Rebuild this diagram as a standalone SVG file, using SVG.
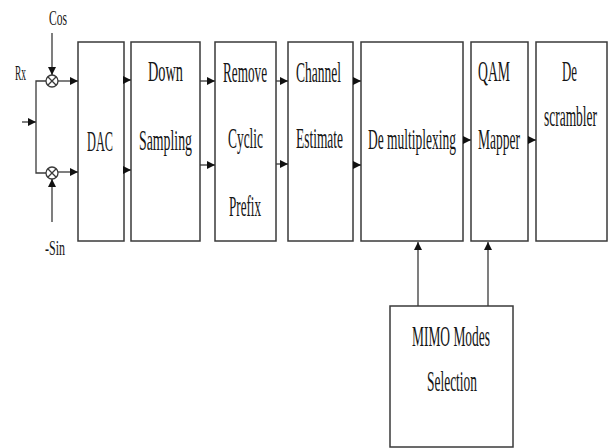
<svg xmlns="http://www.w3.org/2000/svg" width="608" height="448" viewBox="0 0 608 448">
<style>
.box{fill:#fff;stroke:#3a3a3a;stroke-width:1.5}
.ln{fill:none;stroke:#3a3a3a;stroke-width:1.3}
.t{font-family:"Liberation Serif","Times New Roman",serif;font-size:30px;fill:#151515}
.s{font-family:"Liberation Serif","Times New Roman",serif;font-size:20px;fill:#151515}
</style>
<defs>
<marker id="ah" markerWidth="9" markerHeight="9" refX="8" refY="4.5" orient="auto" markerUnits="userSpaceOnUse">
<path d="M0,0.5 L8,4.5 L0,8.5 Z" fill="#111"/>
</marker>
</defs>
<rect width="608" height="448" fill="#fff"/>
<g id="mixer-cos">
<circle cx="52" cy="81" r="6" class="ln"/>
<path d="M47.8,76.8 L56.2,85.2 M56.2,76.8 L47.8,85.2" class="ln" stroke-width="0.9"/>
</g>
<g id="mixer-sin">
<circle cx="52" cy="173" r="6" class="ln"/>
<path d="M47.8,168.8 L56.2,177.2 M56.2,168.8 L47.8,177.2" class="ln" stroke-width="0.9"/>
</g>
<g id="labels">
<text class="s" x="49" y="25" textLength="18" lengthAdjust="spacingAndGlyphs">Cos</text>
<text class="s" x="15" y="80" textLength="11" lengthAdjust="spacingAndGlyphs">Rx</text>
<text class="s" x="45" y="255" textLength="20" lengthAdjust="spacingAndGlyphs">-Sin</text>
</g>
<g id="dac">
<rect class="box" x="78" y="42" width="46" height="199"/>
<text class="t" x="87" y="151" textLength="26" lengthAdjust="spacingAndGlyphs">DAC</text>
</g>
<g id="down-sampling">
<rect class="box" x="131" y="42" width="69" height="199"/>
<text class="t" x="148" y="81" textLength="35" lengthAdjust="spacingAndGlyphs">Down</text>
<text class="t" x="139" y="150" textLength="53" lengthAdjust="spacingAndGlyphs">Sampling</text>
</g>
<g id="remove-cp">
<rect class="box" x="215" y="42" width="61" height="199"/>
<text class="t" x="223" y="82" textLength="44" lengthAdjust="spacingAndGlyphs">Remove</text>
<text class="t" x="228" y="148" textLength="35" lengthAdjust="spacingAndGlyphs">Cyclic</text>
<text class="t" x="229" y="216" textLength="32" lengthAdjust="spacingAndGlyphs">Prefix</text>
</g>
<g id="channel-estimate">
<rect class="box" x="288" y="42" width="65" height="199"/>
<text class="t" x="296" y="82" textLength="45" lengthAdjust="spacingAndGlyphs">Channel</text>
<text class="t" x="296" y="148" textLength="47" lengthAdjust="spacingAndGlyphs">Estimate</text>
</g>
<g id="demux">
<rect class="box" x="361" y="42" width="102" height="199"/>
<text class="t" x="368" y="149" textLength="88" lengthAdjust="spacingAndGlyphs">De multiplexing</text>
</g>
<g id="qam">
<rect class="box" x="471" y="42" width="57" height="199"/>
<text class="t" x="478" y="81" textLength="32" lengthAdjust="spacingAndGlyphs">QAM</text>
<text class="t" x="478" y="149" textLength="42" lengthAdjust="spacingAndGlyphs">Mapper</text>
</g>
<g id="descrambler">
<rect class="box" x="536" y="42" width="71" height="199"/>
<text class="t" x="562" y="81" textLength="15" lengthAdjust="spacingAndGlyphs">De</text>
<text class="t" x="544" y="126" textLength="53" lengthAdjust="spacingAndGlyphs">scrambler</text>
</g>
<g id="mimo">
<rect class="box" x="390" y="306" width="123" height="141"/>
<text class="t" x="412" y="346" textLength="78" lengthAdjust="spacingAndGlyphs">MIMO Modes</text>
<text class="t" x="427" y="391" textLength="50" lengthAdjust="spacingAndGlyphs">Selection</text>
</g>
<g id="connectors">
<line class="ln" x1="22" y1="122" x2="36" y2="122" marker-end="url(#ah)"/>
<path class="ln" d="M46,81 H36 V173 H46"/>
<line class="ln" x1="58" y1="81" x2="78" y2="81" marker-end="url(#ah)"/>
<line class="ln" x1="58" y1="172" x2="78" y2="172" marker-end="url(#ah)"/>
<line class="ln" x1="52" y1="33" x2="52" y2="75" marker-end="url(#ah)"/>
<line class="ln" x1="52" y1="222" x2="52" y2="179" marker-end="url(#ah)"/>
<line class="ln" x1="124" y1="80" x2="131" y2="80" marker-end="url(#ah)"/>
<line class="ln" x1="124" y1="170" x2="131" y2="170" marker-end="url(#ah)"/>
<line class="ln" x1="200" y1="81" x2="215" y2="81" marker-end="url(#ah)"/>
<line class="ln" x1="200" y1="165" x2="215" y2="165" marker-end="url(#ah)"/>
<line class="ln" x1="276" y1="81" x2="288" y2="81" marker-end="url(#ah)"/>
<line class="ln" x1="276" y1="164" x2="288" y2="164" marker-end="url(#ah)"/>
<line class="ln" x1="353" y1="81" x2="361" y2="81" marker-end="url(#ah)"/>
<line class="ln" x1="353" y1="165" x2="361" y2="165" marker-end="url(#ah)"/>
<line class="ln" x1="463" y1="140" x2="471" y2="140" marker-end="url(#ah)"/>
<line class="ln" x1="528" y1="140" x2="536" y2="140" marker-end="url(#ah)"/>
<line class="ln" x1="418" y1="306" x2="418" y2="242" marker-end="url(#ah)"/>
<line class="ln" x1="488" y1="306" x2="488" y2="242" marker-end="url(#ah)"/>
</g>
</svg>
